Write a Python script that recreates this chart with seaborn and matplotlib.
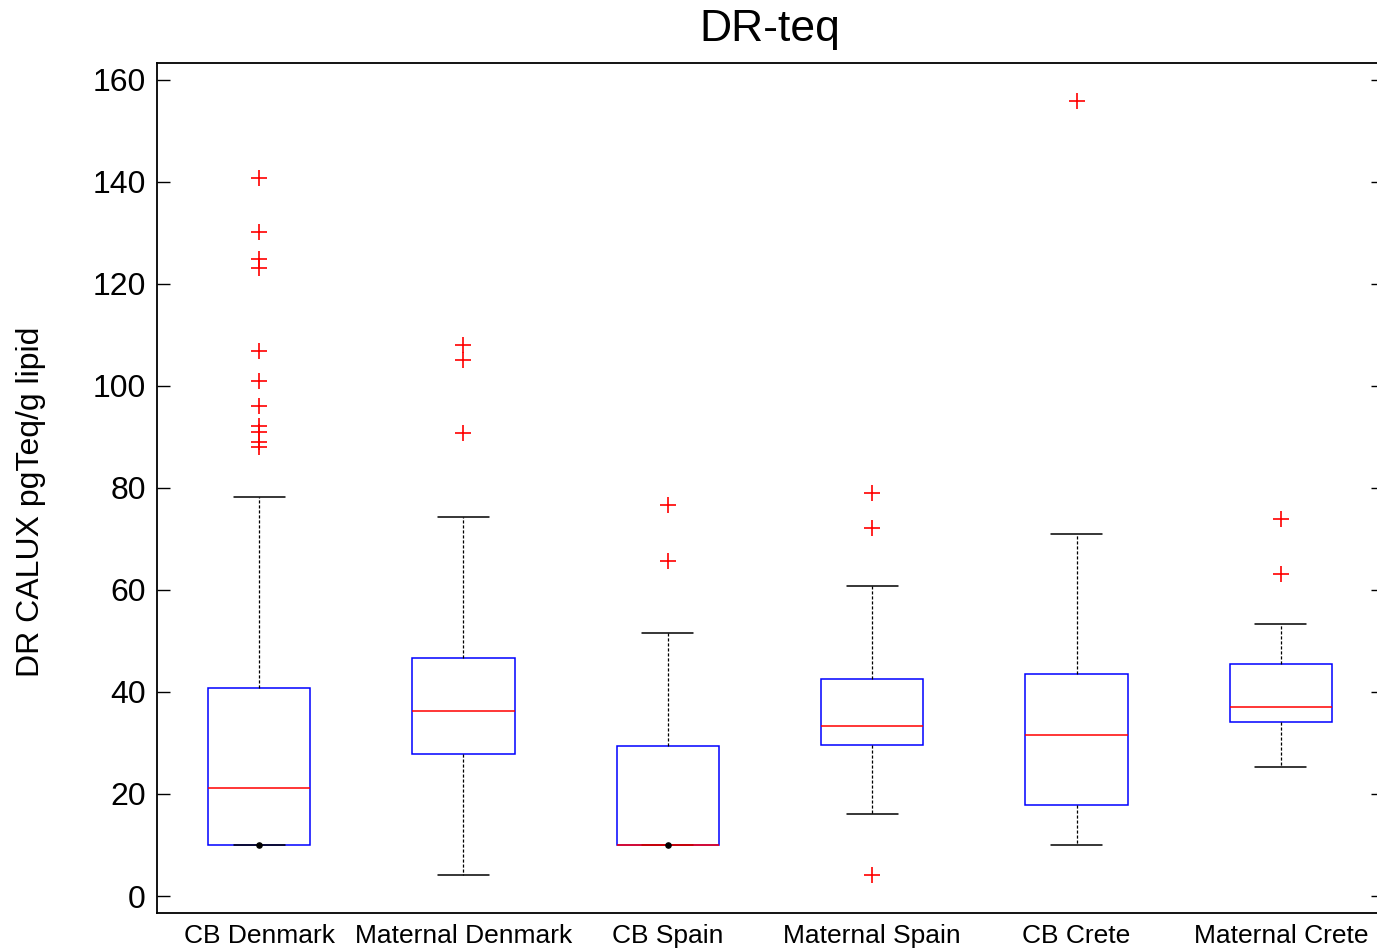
import numpy as np
import pandas as pd
import matplotlib
matplotlib.use("Agg")
import matplotlib.pyplot as plt
import seaborn as sns

# Box summary values (DR CALUX, pgTeq/g lipid)
groups = ['CB Denmark', 'Maternal Denmark', 'CB Spain',
          'Maternal Spain', 'CB Crete', 'Maternal Crete']
q1 = [10.0, 27.8, 10.0, 29.7, 17.8, 34.1]
median = [21.2, 36.3, 10.0, 33.3, 31.6, 37.1]
q3 = [40.8, 46.7, 29.4, 42.5, 43.5, 45.5]
whisker_low = [10.0, 4.1, 10.0, 16.1, 10.0, 25.3]
whisker_high = [78.2, 74.3, 51.6, 60.7, 71.0, 53.3]
outliers = [
    [140.7, 130.1, 124.9, 123.1, 106.8, 100.9, 96.1, 92.1, 91.0, 89.1, 88.0],
    [108.0, 105.0, 90.8],
    [76.7, 65.7],
    [79.1, 72.1, 4.1],
    [155.9],
    [73.9, 63.1],
]
# values at the detection limit marked with a black dot
lod_groups = ['CB Denmark', 'CB Spain']
lod_values = [10.0, 10.0]


def sample_from_stats(lo, a, m, b, hi, fl, k=12):
    # rebuild a sample (n = 4k+1) whose quartiles / whiskers give the read-off box
    low = sorted(v for v in fl if v < a)
    high = sorted(v for v in fl if v > b)
    vals = low + [lo] + [a] * (k - len(low)) + [m] * k + [b] * k
    vals += [hi] * (k - len(high)) + high
    return vals


rows = []
for i, g in enumerate(groups):
    for v in sample_from_stats(whisker_low[i], q1[i], median[i], q3[i],
                               whisker_high[i], outliers[i]):
        rows.append((g, v))
df = pd.DataFrame(rows, columns=['group', 'value'])

sns.set_style("white")
plt.rcParams['font.family'] = ['Liberation Sans', 'DejaVu Sans']
plt.rcParams['text.color'] = 'black'

fig = plt.figure(figsize=(13.77, 9.51), dpi=100)
ax = fig.add_axes([157 / 1377, 38 / 951, 1226 / 1377, 850 / 951])

sns.boxplot(data=df, x='group', y='value', order=groups, width=0.5, ax=ax,
            boxprops=dict(facecolor='none', edgecolor='blue', linewidth=1.1),
            medianprops=dict(color='red', linewidth=1.1),
            whiskerprops=dict(color='black', linestyle=(0, (2.5, 1.5)), linewidth=0.9),
            capprops=dict(color='black', linewidth=1.1),
            flierprops=dict(marker='+', markeredgecolor='red', markerfacecolor='red',
                            markersize=12, markeredgewidth=1.2))

ax.scatter([groups.index(g) for g in lod_groups], lod_values,
           s=14, color='black', zorder=5)

ax.set_xlim(-0.5, len(groups) - 0.5)
ax.set_ylim(-3.33, 163.3)
ax.set_yticks([0, 20, 40, 60, 80, 100, 120, 140, 160])
ax.set_xlabel('')
ax.set_ylabel('DR CALUX pgTeq/g lipid', fontsize=23, va='center', ha='center',
              color='black')
ax.yaxis.set_label_coords(-0.103, 0.484)
ax.set_title('DR-teq', fontsize=32, pad=16, color='black')

ax.tick_params(axis='y', direction='in', length=9, width=1, left=True, right=True,
               labelsize=23, pad=8, colors='black')
ax.tick_params(axis='x', length=0, labelsize=19, pad=8, colors='black')
for s in ax.spines.values():
    s.set_color('black')
    s.set_linewidth(1.3)

plt.savefig('out.png', dpi=100)
